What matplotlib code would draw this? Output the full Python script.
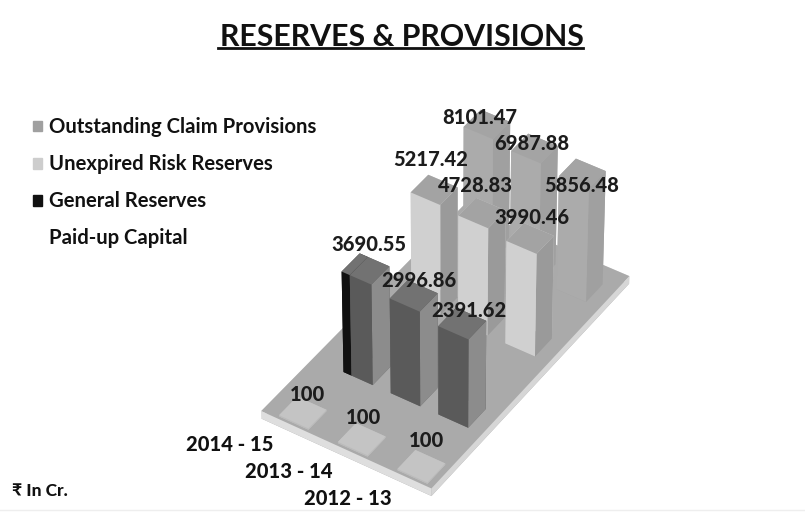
import numpy as np
import matplotlib
matplotlib.use('Agg')
import matplotlib.pyplot as plt
from matplotlib.patches import Patch
from matplotlib.lines import Line2D

plt.rcParams['font.family'] = ['Lato', 'DejaVu Sans']
plt.rcParams['font.weight'] = 'bold'

# DATA
years = ['2014-15', '2013-14', '2012-13']
series = ['Paid-up Capital', 'General Reserves', 'Unexpired Risk Reserves', 'Outstanding Claim Provisions']
paid_up = [100, 100, 100]
general = [3690.55, 2996.86, 2391.62]
unexpired = [5217.42, 4728.83, 3990.46]
outstanding = [8101.47, 6987.88, 5856.48]
value_labels = {
    0: ['100', '100', '100'],
    1: ['3690.55', '2996.86', '2391.62'],
    2: ['5217.42', '4728.83', '3990.46'],
    3: ['8101.47', '6987.88', '5856.48'],
}

fig = plt.figure(figsize=(8.05, 5.12), dpi=100)
ax = fig.add_axes([0.0716, -0.143, 0.95, 1.15], projection='3d', computed_zorder=False)
ax.set_proj_type('persp', focal_length=1.6)
ax.view_init(elev=42, azim=-57)
xmin, xmax = -0.96, 2.6
ymin, ymax = 0.17, 3.52
ax.set_xlim(xmin, xmax)
ax.set_ylim(ymin, ymax)
ax.set_zlim(-0.12, 2.0)
ax.set_box_aspect((211, 387, 191), zoom=0.76)
ax.set_axis_off()

# log axis with base at 100, hence the flat paid-up bars
def height(v):
    return np.log10(v) - 2

# face order for bar3d: bottom, top, front(-y), back(+y), left(-x), right(+x)
face_cols = {
    0: ['#c4c4c4', '#c4c4c4', '#bbbbbb', '#bbbbbb', '#bbbbbb', '#bbbbbb'],
    1: ['#6e6e6e', '#727272', '#5a5a5a', '#5a5a5a', '#5a5a5a', '#8c8c8c'],
    2: ['#a0a0a0', '#a3a3a3', '#d0d0d0', '#d0d0d0', '#d0d0d0', '#9a9a9a'],
    3: ['#a4a4a4', '#a4a4a4', '#ababab', '#ababab', '#ababab', '#a0a0a0'],
}
values = [paid_up, general, unexpired, outstanding]
# layout of the rows, the front row is spread wider than the rest
depth_pos = [0.2, 1, 2.12, 3]
x_pos = [[-0.31, 0.93, 2.17], [0, 1, 2], [0, 1, 2], [0, 1, 2]]
bar_w = 0.62
bar_d = 0.29
# label nudges per row
label_dz = [[0.33, 0.38, 0.46], [0.40, 0.26, 0.24], [0.44, 0.38, 0.32], [0.06, 0.06, -0.18]]
label_dx = [[0.1, 0.05, 0.11], [0.08, 0.1, 0.14], [-0.08, -0.14, 0.02], [-0.15, -0.05, 0]]

# floor plate
ax.bar3d(xmin, ymin, -0.12, xmax-xmin, ymax-ymin, 0.12, shade=False, zorder=1,
         color=['#aaaaaa', '#aaaaaa', '#dedede', '#dedede', '#dedede', '#d6d6d6'])

# painter's order: far to near
z = 2
for j in [3, 2, 1, 0]:
    for i in range(3):
        h = max(height(values[j][i]), 0.02)
        x0 = x_pos[j][i] - bar_w/2
        y0 = depth_pos[j]
        if j == 1 and i == 0:
            # black strip on the front of the first general reserves bar
            ax.bar3d(x0, y0, 0, 0.17, bar_d, h, shade=False, zorder=z,
                     color=['#111111', '#727272', '#111111', '#111111', '#111111', '#111111'])
            z += 1
            ax.bar3d(x0+0.17, y0, 0, bar_w-0.17, bar_d, h, shade=False, color=face_cols[j], zorder=z)
        else:
            ax.bar3d(x0, y0, 0, bar_w, bar_d, h, shade=False, color=face_cols[j], zorder=z)
        z += 1

# value labels
for j in range(4):
    for i in range(3):
        h = height(values[j][i])
        ax.text(x_pos[j][i] + label_dx[j][i], depth_pos[j] + bar_d/2, h + label_dz[j][i], value_labels[j][i],
                ha='center', va='center', fontsize=14.5, color='#1c1c1c', zorder=200, fontweight='black')

# year labels
for i, yr in enumerate(years):
    ax.text(x_pos[0][i] - 0.1, ymin - 0.22, -0.12, yr.replace('-', ' - '), ha='right', va='center',
            fontsize=14.5, color='#111111', zorder=200, fontweight='black')

# title
fig.text(0.4994, 0.927, 'RESERVES & PROVISIONS', ha='center', va='center', fontsize=21.8, color='#111111')
fig.add_artist(Line2D([218/805, 583/805], [1-48/512, 1-48/512], color='#111111', lw=2))

# legend
handles = [Patch(color='#a0a0a0'), Patch(color='#cdcdcd'), Patch(color='#111111'), Patch(color='none')]
fig.legend(handles, series[::-1], loc='upper left', bbox_to_anchor=(0.041, 0.771), frameon=False,
           fontsize=14.6, labelspacing=0.84, handlelength=0.45, handleheight=0.45, handletextpad=0.35,
           borderpad=0, borderaxespad=0, labelcolor='#111111')

fig.text(12/805, 1-491/512, '₹ In Cr.', ha='left', va='center', fontsize=12.5, color='#111111', fontweight='black')
fig.add_artist(Line2D([0, 1], [1-510/512, 1-510/512], color='#eeeeee', lw=1))

fig.savefig('out.png', dpi=100)
